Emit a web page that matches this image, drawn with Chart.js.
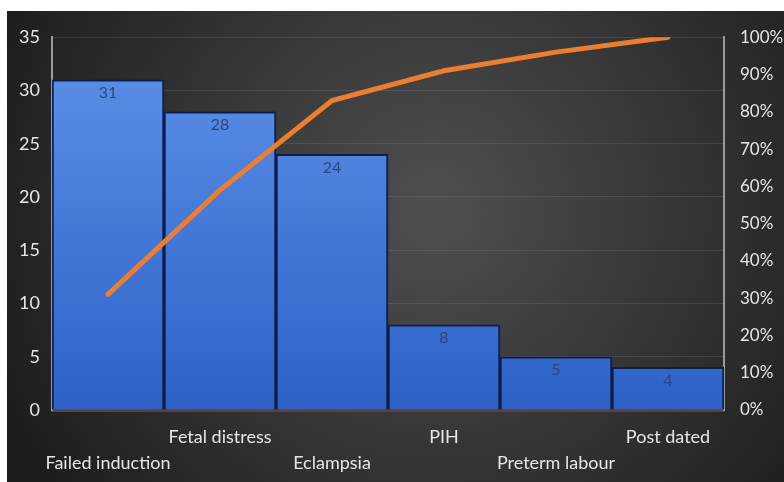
<!DOCTYPE html>
<html><head><meta charset="utf-8">
<script src="https://cdn.jsdelivr.net/npm/chart.js@4"></script>
<style>
html,body{margin:0;padding:0;background:#fff;width:784px;height:482px;overflow:hidden}
#wrap{position:absolute;left:7px;top:11px;width:777px;height:471px}
</style></head>
<body><div id="wrap"><canvas id="c"></canvas></div>
<script>
const categories = ['Failed induction','Fetal distress','Eclampsia','PIH','Preterm labour','Post dated'];
const counts = [31, 28, 24, 8, 5, 4];
const cumulativePct = [31, 59, 83, 91, 96, 100];
const countTicks = { min: 0, max: 35, step: 5 };
const pctTicks = { min: 0, max: 100, step: 10 };

const xLabels = categories.map((c, i) => i % 2 === 0 ? ['', c] : [c]);
const FONT = 'Lato, "Open Sans", sans-serif';

const bgPlugin = {
  id: 'bg',
  beforeDraw(chart) {
    const { ctx, width, height } = chart;
    const g = ctx.createRadialGradient(width * 0.55, height * 0.42, 0, width * 0.55, height * 0.42, width * 0.62);
    g.addColorStop(0, '#4f4f4f');
    g.addColorStop(1, '#1c1c1c');
    ctx.save();
    ctx.fillStyle = g;
    ctx.fillRect(0, 0, width, height);
    ctx.restore();
  }
};

const valuePlugin = {
  id: 'vals',
  afterDatasetsDraw(chart) {
    const meta = chart.getDatasetMeta(1);
    const ctx = chart.ctx;
    ctx.save();
    ctx.font = '16px ' + FONT;
    ctx.fillStyle = '#2d4682';
    ctx.textAlign = 'center';
    ctx.textBaseline = 'middle';
    meta.data.forEach((bar, i) => {
      ctx.fillText(String(chart.data.datasets[1].data[i]), bar.x, bar.y + 13);
    });
    ctx.restore();
  }
};

const ctx = document.getElementById('c').getContext('2d');
new Chart(ctx, {
  data: {
    labels: xLabels,
    datasets: [
      {
        type: 'line',
        data: cumulativePct,
        yAxisID: 'y1',
        borderColor: '#ed7d31',
        borderWidth: 5,
        pointRadius: 0,
        tension: 0,
        order: 0,
        borderCapStyle: 'round'
      },
      {
        type: 'bar',
        data: counts,
        yAxisID: 'y',
        backgroundColor: (c) => {
          const a = c.chart.chartArea;
          if (!a) return '#3f74d8';
          const g = c.chart.ctx.createLinearGradient(0, a.top, 0, a.bottom);
          g.addColorStop(0, '#5e92e8');
          g.addColorStop(1, '#2d61c7');
          return g;
        },
        borderColor: '#0a1d4e',
        borderWidth: 2,
        barPercentage: 1,
        categoryPercentage: 1,
        order: 1
      }
    ]
  },
  options: {
    responsive: true,
    maintainAspectRatio: false,
    animation: false,
    layout: { padding: { top: 24, left: 0, right: 0, bottom: 0 } },
    plugins: { legend: { display: false }, tooltip: { enabled: false } },
    scales: {
      x: {
        offset: true,
        grid: { display: false, drawTicks: false },
        border: { color: '#5c4239', width: 3 },
        ticks: {
          color: '#e6e6e6',
          font: { family: FONT, size: 18, lineHeight: 1.45 },
          maxRotation: 0, minRotation: 0, autoSkip: false,
          padding: 14
        },
        afterFit: (s) => { s.height = 72; }
      },
      y: {
        position: 'left',
        min: countTicks.min, max: countTicks.max,
        ticks: {
          stepSize: countTicks.step,
          color: '#e6e6e6',
          font: { family: FONT, size: 18 },
          padding: 12
        },
        grid: { color: 'rgba(255,255,255,0.09)', drawTicks: false },
        border: { color: '#9a9a9a', width: 2 },
        afterFit: (s) => { s.width = 45; }
      },
      y1: {
        position: 'right',
        min: pctTicks.min, max: pctTicks.max,
        ticks: {
          stepSize: pctTicks.step,
          color: '#e6e6e6',
          font: { family: FONT, size: 17 },
          padding: 16,
          callback: (v) => v + '%'
        },
        grid: { drawOnChartArea: false, drawTicks: false },
        border: { color: '#9a9a9a', width: 2 },
        afterFit: (s) => { s.width = 60; }
      }
    }
  },
  plugins: [bgPlugin, valuePlugin]
});
</script>
</body></html>
